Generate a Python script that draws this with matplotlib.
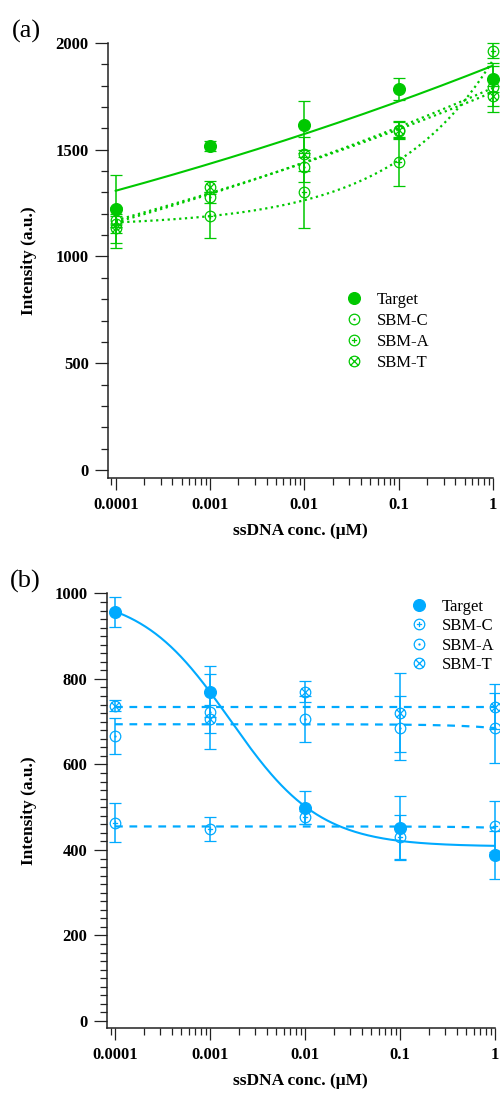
import numpy as np
import matplotlib
matplotlib.use("Agg")
import matplotlib.pyplot as plt
from matplotlib.path import Path
from matplotlib.lines import Line2D
from matplotlib.ticker import MultipleLocator, LogLocator, FixedLocator, FixedFormatter, NullFormatter

plt.rcParams['font.family'] = ['Liberation Serif', 'DejaVu Serif']

conc = [1e-4, 1e-3, 1e-2, 1e-1, 1]
conc_labels = ['0.0001', '0.001', '0.01', '0.1', '1']
names = ['Target', 'SBM-C', 'SBM-A', 'SBM-T']

# (a) intensities, green series
a_target = [1221, 1517, 1615, 1785, 1830]
a_target_err = [160, 23, 115, 50, 60]
a_sbmc = [1170, 1277, 1417, 1590, 1792]
a_sbmc_err = [30, 25, 70, 40, 114]
a_sbma = [1150, 1191, 1300, 1444, 1964]
a_sbma_err = [40, 103, 168, 114, 34]
a_sbmt = [1135, 1327, 1480, 1593, 1752]
a_sbmt_err = [97, 25, 78, 40, 47]
# fit y = p0 + p1 * x**p2
a_fit = {'Target': (0, 1894, 0.0402), 'SBM-C': (0, 1790, 0.0471),
         'SBM-A': (1140, 780, 0.4), 'SBM-T': (0, 1770, 0.045)}

# (b) intensities, blue series
b_target = [957, 770, 499, 452, 388]
b_target_err = [35, 60, 39, 75, 57]
b_sbmc = [464, 448, 476, 431, 455]
b_sbmc_err = [46, 28, 15, 51, 60]
b_sbma = [667, 723, 706, 685, 685]
b_sbma_err = [42, 88, 53, 74, 82]
b_sbmt = [737, 706, 770, 721, 735]
b_sbmt_err = [13, 33, 24, 92, 53]
# target: logistic (top, bottom, ec50, hill); others: straight line (p0, p1)
b_target_fit = (1000, 408, 0.00163, 0.92)
b_lin_fit = {'SBM-C': (455, -3), 'SBM-A': (694, -9), 'SBM-T': (734, 0)}

green = '#00c800'
blue = '#00aaff'


def ring(inner):
    c = Path.unit_circle()
    parts = [c]
    if inner == 'x':
        r = 0.7071
        parts.append(Path([[-r, -r], [r, r]], [Path.MOVETO, Path.LINETO]))
        parts.append(Path([[-r, r], [r, -r]], [Path.MOVETO, Path.LINETO]))
    elif inner == '+':
        parts.append(Path([[-0.5, 0], [0.5, 0]], [Path.MOVETO, Path.LINETO]))
        parts.append(Path([[0, -0.5], [0, 0.5]], [Path.MOVETO, Path.LINETO]))
    elif inner == '.':
        parts.append(Path.circle((0, 0), 0.1))
    return Path.make_compound_path(*parts)


m_dot, m_plus, m_x = ring('.'), ring('+'), ring('x')


def draw_series(ax, y, err, mk, col, filled):
    kw = dict(marker=mk, ms=7.6 if not filled else 8.5, ls='none',
              mfc=col if filled else 'none', mec=col, mew=0.9,
              ecolor=col, elinewidth=1.1, capsize=4.3, capthick=1.0)
    cont = ax.errorbar(conc, y, yerr=err, **kw)
    for art in cont.get_children():
        art.set_clip_on(False)


def style_axes(ax, major, minor, bottom_pad):
    ax.set_xscale('log')
    ax.set_xlim(10 ** bottom_pad, 1)
    ax.spines['top'].set_visible(False)
    ax.spines['right'].set_visible(False)
    for s in ('left', 'bottom'):
        ax.spines[s].set_linewidth(1.1)
        ax.spines[s].set_color('#222222')
    ax.yaxis.set_major_locator(MultipleLocator(major))
    ax.yaxis.set_minor_locator(MultipleLocator(minor))
    ax.xaxis.set_major_locator(FixedLocator(conc))
    ax.xaxis.set_major_formatter(FixedFormatter(conc_labels))
    ax.xaxis.set_minor_locator(LogLocator(base=10, subs=np.arange(2, 10)))
    ax.xaxis.set_minor_formatter(NullFormatter())
    ax.tick_params(axis='y', which='major', length=9.4, width=0.9, pad=4.5, color='#222222')
    ax.tick_params(axis='y', which='minor', length=5.4, width=0.9, color='#222222')
    ax.tick_params(axis='x', which='major', length=8.6, width=0.9, pad=5, color='#222222')
    ax.tick_params(axis='x', which='minor', length=5.0, width=0.9, color='#222222')
    for lab in ax.get_xticklabels() + ax.get_yticklabels():
        lab.set_fontweight('bold')
        lab.set_fontsize(12)
    ax.set_xlabel('ssDNA conc. (\u03bcM)', fontsize=12.5, fontweight='bold')
    ax.set_ylabel('Intensity (a.u.)', fontsize=12.5, fontweight='bold')
    ax.xaxis.set_label_coords(0.5, -0.103)


fig = plt.figure(figsize=(5, 10.94), dpi=100)
H = 1094.0

xs = np.logspace(-4, 0, 300)

# ---- (a)
ax1 = fig.add_axes([108 / 500, 1 - 478 / H, 385 / 500, 435 / H])
p = a_fit['Target']
ax1.plot(xs, p[0] + p[1] * xs ** p[2], color=green, lw=1.5)
for key in ('SBM-C', 'SBM-A', 'SBM-T'):
    p = a_fit[key]
    ax1.plot(xs, p[0] + p[1] * xs ** p[2], color=green, lw=1.6, ls=(0, (1, 1.6)))
draw_series(ax1, a_target, a_target_err, 'o', green, True)
draw_series(ax1, a_sbmc, a_sbmc_err, m_dot, green, False)
draw_series(ax1, a_sbma, a_sbma_err, m_plus, green, False)
draw_series(ax1, a_sbmt, a_sbmt_err, m_x, green, False)
ax1.set_ylim(-37.5, 2000)
style_axes(ax1, 500, 100, -4.0817)
ax1.yaxis.set_label_coords(-0.185, 0.5)

handles_a = [Line2D([], [], marker=m, ls='none', color=green,
                    mfc=green if m == 'o' else 'none', mew=0.9,
                    ms=8.5 if m == 'o' else 7.6)
             for m in ('o', m_dot, m_plus, m_x)]
ax1.legend(handles_a, names, frameon=False, loc='upper left', fontsize=12,
           bbox_to_anchor=(346 / 500, 1 - 292 / H), bbox_transform=fig.transFigure,
           handlelength=1.0, handletextpad=0.85, labelspacing=0.3, borderpad=0,
           borderaxespad=0)

# ---- (b)
ax2 = fig.add_axes([106.7 / 500, 1 - 1028 / H, 388.3 / 500, 434.6 / H])
top, bot, ec50, hill = b_target_fit
ax2.plot(xs, bot + (top - bot) / (1 + (xs / ec50) ** hill), color=blue, lw=1.5)
for key in ('SBM-C', 'SBM-A', 'SBM-T'):
    p = b_lin_fit[key]
    ax2.plot(xs, p[0] + p[1] * xs, color=blue, lw=1.6, ls=(0, (3.5, 3)))
draw_series(ax2, b_target, b_target_err, 'o', blue, True)
draw_series(ax2, b_sbmc, b_sbmc_err, m_plus, blue, False)
draw_series(ax2, b_sbma, b_sbma_err, m_dot, blue, False)
draw_series(ax2, b_sbmt, b_sbmt_err, m_x, blue, False)
ax2.set_ylim(-16.4, 1000)
style_axes(ax2, 200, 20, -4.0874)
ax2.yaxis.set_label_coords(-0.18, 0.5)

handles_b = [Line2D([], [], marker=m, ls='none', color=blue,
                    mfc=blue if m == 'o' else 'none', mew=0.9,
                    ms=8.5 if m == 'o' else 7.6)
             for m in ('o', m_plus, m_dot, m_x)]
ax2.legend(handles_b, names, frameon=False, loc='upper left', fontsize=12,
           bbox_to_anchor=(411 / 500, 1 - 599 / H), bbox_transform=fig.transFigure,
           handlelength=1.0, handletextpad=0.85, labelspacing=0.2, borderpad=0,
           borderaxespad=0)

fig.text(12 / 500, 1 - 31.5 / H, '(a)', fontsize=19, ha='left', va='center')
fig.text(10 / 500, 1 - 581.5 / H, '(b)', fontsize=19, ha='left', va='center')

fig.savefig('out.png', dpi=100)
